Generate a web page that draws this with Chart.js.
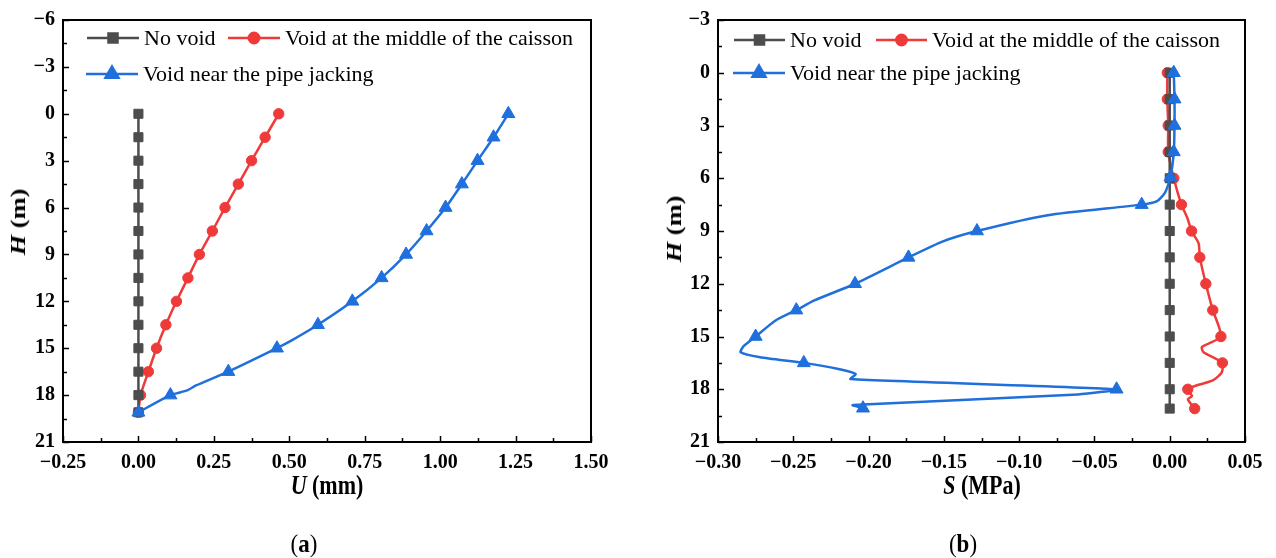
<!DOCTYPE html>
<html lang="en">
<head>
    <meta charset="UTF-8">
    <title>Caisson void profiles</title>
    <script src="https://cdn.jsdelivr.net/npm/chart.js@4.4.0/dist/chart.umd.min.js"></script>
    <style>
        body { margin: 0; background: #fff; }
        #wrap { position: relative; width: 1276px; height: 558px; font-family: 'Liberation Serif', 'Times New Roman', serif; color: #000; }
        canvas { position: absolute; top: 0; }
        /* the source figure is a little stretched vertically, so titles are too */
        .t { position: absolute; font-size: 22px; font-weight: bold; white-space: nowrap; transform: translate(-50%, -50%) scaleY(1.2); }
        .t.rot { transform: translate(-50%, -50%) rotate(-90deg) scaleX(1.2); }
        .cap { position: absolute; font-size: 23px; white-space: nowrap; transform: translate(-50%, -50%) scaleY(1.1); }
    </style>
</head>
<body>
<div id="wrap">
    <canvas id="chartA" width="638" height="558" style="left:0"></canvas>
    <canvas id="chartB" width="638" height="558" style="left:638px"></canvas>

    <div class="t" style="left:327px; top:486px"><i>U</i> (mm)</div>
    <div class="t rot" style="left:18px; top:222px"><i>H</i> (m)</div>
    <div class="cap" style="left:304px; top:544px">(<b>a</b>)</div>

    <div class="t" style="left:982px; top:486px"><i>S</i> (MPa)</div>
    <div class="t rot" style="left:674px; top:229px"><i>H</i> (m)</div>
    <div class="cap" style="left:963px; top:544px">(<b>b</b>)</div>
</div>

<script>
    // ---- panel (a): horizontal displacement U (mm) vs depth H (m)
    const depthA   = [0, 1.5, 3, 4.5, 6, 7.5, 9, 10.5, 12, 13.5, 15, 16.5, 18, 19.1];
    const noVoidA  = [0, 0, 0, 0, 0, 0, 0, 0, 0, 0, 0, 0, 0, 0];
    const midVoidA = [0.465, 0.42, 0.375, 0.331, 0.287, 0.245, 0.202, 0.164, 0.126, 0.091, 0.060, 0.033, 0.007, 0];
    // the blue curve has a few bends between markers (1 = marker shown)
    const pipeDepthA = [0, 1.5, 3, 4.5, 6, 7.5, 9, 10.5, 12, 13.5, 14.5, 15, 16.5, 17.4, 17.7, 18, 19.1];
    const pipeVoidA  = [1.226, 1.177, 1.124, 1.072, 1.018, 0.955, 0.887, 0.806, 0.709, 0.595, 0.508, 0.459, 0.298, 0.189, 0.162, 0.106, 0];
    const pipeMarkA  = [1, 1, 1, 1, 1, 1, 1, 1, 1, 1, 0, 1, 1, 0, 0, 1, 1];

    // ---- panel (b): stress S (MPa) vs depth H (m)
    const depthB  = [0, 1.5, 3, 4.5, 6, 7.5, 9, 10.5, 12, 13.5, 15, 16.5, 18, 19.1];
    const noVoidB = [0, 0, 0, 0, 0, 0, 0, 0, 0, 0, 0, 0, 0, 0];
    const midDepthB = [0, 1.5, 3, 4.5, 6, 7.5, 8.3, 9, 9.7, 10.5, 12, 13.5, 15, 15.6, 15.9, 16.5, 17.05, 17.5, 17.8, 18, 18.38, 18.57, 19.1];
    const midVoidB  = [-0.0016, -0.0016, -0.001, -0.001, 0.0027, 0.0078, 0.0119, 0.0145, 0.0192, 0.020, 0.024, 0.0286, 0.034, 0.0213, 0.0225, 0.035, 0.0345, 0.0286, 0.0172, 0.012, 0.0148, 0.012, 0.0166];
    const midMarkB  = [1, 1, 1, 1, 1, 1, 0, 1, 0, 1, 1, 1, 1, 0, 0, 1, 0, 0, 0, 1, 0, 0, 1];
    const pipeDepthB = [0, 1.5, 3, 4.5, 5.94, 6.8, 7.3, 7.5, 8.1, 9, 9.6, 10.5, 12, 12.95, 13.5, 14.1, 15, 15.55, 15.9, 16.18, 16.5, 16.85, 17.13, 17.42, 18, 18.3, 18.9, 19.08];
    const pipeVoidB  = [0.0027, 0.0032, 0.0032, 0.0027, 0.0005, -0.003, -0.0084, -0.0186, -0.081, -0.128, -0.151, -0.1735, -0.209, -0.236, -0.248, -0.262, -0.275, -0.283, -0.285, -0.272, -0.243, -0.220, -0.2086, -0.212, -0.0353, -0.061, -0.2105, -0.2037];
    const pipeMarkB  = [1, 1, 1, 1, 1, 0, 0, 1, 0, 1, 0, 1, 1, 0, 1, 0, 1, 0, 0, 0, 1, 0, 0, 0, 1, 0, 0, 1];

    const seriesNames = ['No void', 'Void at the middle of the caisson', 'Void near the pipe jacking'];

    const GREY = '#4d4d4d', RED = '#ef3a3a', BLUE = '#1f6fdc';
    const tickFont = { family: 'Liberation Serif', weight: 'bold', size: 20 };

    function pts(xs, ys) {
        return ys.map((h, i) => ({ x: xs[i], y: h }));
    }

    function series(label, color, style, radius, xs, ys, marks, order) {
        return {
            label: label,
            data: pts(xs, ys),
            showLine: true,
            borderColor: color,
            backgroundColor: color,
            borderWidth: 2.5,
            tension: 0.2,
            pointStyle: style,
            pointBackgroundColor: color,
            pointBorderColor: color,
            pointBorderWidth: 1,
            pointRadius: marks ? marks.map(m => m ? radius : 0) : radius,
            legendRadius: radius,
            order: order
        };
    }

    function minusSign(v, digits) {
        if (Math.abs(v) < 1e-9) v = 0;
        const s = digits === undefined ? String(v) : v.toFixed(digits);
        return s.replace('-', '\u2212');
    }

    // closed frame plus inward major/minor ticks
    function frameTicks(xMin, xMax, xStep, yMin, yMax, yStep) {
        return {
            id: 'frameTicks',
            afterDraw(chart) {
                const { ctx, chartArea: a, scales: { x, y } } = chart;
                ctx.save();
                ctx.strokeStyle = '#000';
                ctx.lineWidth = 1.5;
                const nx = Math.round((xMax - xMin) / (xStep / 2));
                for (let i = 0; i <= nx; i++) {
                    const px = Math.round(x.getPixelForValue(xMin + i * xStep / 2)) + 0.5;
                    const len = i % 2 === 0 ? 6 : 4;
                    ctx.beginPath();
                    ctx.moveTo(px, a.bottom);
                    ctx.lineTo(px, a.bottom - len);
                    ctx.stroke();
                }
                const ny = Math.round((yMax - yMin) / (yStep / 2));
                for (let i = 0; i <= ny; i++) {
                    const py = Math.round(y.getPixelForValue(yMin + i * yStep / 2)) + 0.5;
                    const len = i % 2 === 0 ? 6 : 4;
                    ctx.beginPath();
                    ctx.moveTo(a.left, py);
                    ctx.lineTo(a.left + len, py);
                    ctx.stroke();
                }
                ctx.lineWidth = 2;
                ctx.strokeRect(a.left, a.top, a.right - a.left, a.bottom - a.top);
                ctx.restore();
            }
        };
    }

    // legend drawn as line-marker-line samples like the original figure
    function lineLegend(items) {
        return {
            id: 'lineLegend',
            afterDraw(chart) {
                const { ctx, chartArea: a } = chart;
                ctx.save();
                items.forEach((it, i) => {
                    const ds = chart.data.datasets[i];
                    const y = a.top + it.y;
                    const x0 = a.left + it.x0, x1 = a.left + it.x1;
                    ctx.strokeStyle = ds.borderColor;
                    ctx.fillStyle = ds.borderColor;
                    ctx.lineWidth = ds.borderWidth;
                    ctx.beginPath();
                    ctx.moveTo(x0, y);
                    ctx.lineTo(x1, y);
                    ctx.stroke();
                    Chart.helpers.drawPoint(ctx, { pointStyle: ds.pointStyle, radius: ds.legendRadius, borderWidth: 1, rotation: 0 }, (x0 + x1) / 2, y);
                    ctx.fillStyle = '#000';
                    ctx.font = '22px "Liberation Serif"';
                    ctx.textBaseline = 'middle';
                    ctx.textAlign = 'left';
                    ctx.fillText(ds.label, x1 + 5, y + 1);
                });
                ctx.restore();
            }
        };
    }

    function makeOptions(padRight, yWidth, xMin, xMax, xStep, xDigits, yMin, yMax) {
        return {
            responsive: false,
            animation: false,
            layout: { padding: { left: 0, right: padRight, top: 19, bottom: 0 } },
            plugins: { legend: { display: false }, tooltip: { enabled: false } },
            scales: {
                x: {
                    type: 'linear', min: xMin, max: xMax,
                    grid: { display: false, drawTicks: false },
                    border: { display: false },
                    ticks: { stepSize: xStep, padding: 9, color: '#000', font: tickFont,
                        callback: v => minusSign(v, xDigits) },
                    afterFit: s => { s.height = 116; }
                },
                y: {
                    type: 'linear', reverse: true, min: yMin, max: yMax,
                    grid: { display: false, drawTicks: false },
                    border: { display: false },
                    ticks: { stepSize: 3, padding: 8, color: '#000', font: tickFont,
                        callback: v => minusSign(v) },
                    afterFit: s => { s.width = yWidth; }
                }
            }
        };
    }

    new Chart(document.getElementById('chartA'), {
        type: 'scatter',
        data: {
            datasets: [
                series(seriesNames[0], GREY, 'rect', 6.4, noVoidA, depthA, null, 2),
                series(seriesNames[1], RED, 'circle', 5.2, midVoidA, depthA, null, 3),
                series(seriesNames[2], BLUE, 'triangle', 7.5, pipeVoidA, pipeDepthA, pipeMarkA, 1)
            ]
        },
        options: makeOptions(47, 63, -0.25, 1.5, 0.25, 2, -6, 21),
        plugins: [
            frameTicks(-0.25, 1.5, 0.25, -6, 21, 3),
            lineLegend([
                { x0: 24, x1: 76, y: 18 },
                { x0: 165, x1: 217, y: 18 },
                { x0: 23, x1: 75, y: 54 }
            ])
        ]
    });

    new Chart(document.getElementById('chartB'), {
        type: 'scatter',
        data: {
            datasets: [
                series(seriesNames[0], GREY, 'rect', 6.4, noVoidB, depthB, null, 2),
                series(seriesNames[1], RED, 'circle', 5.2, midVoidB, midDepthB, midMarkB, 3),
                series(seriesNames[2], BLUE, 'triangle', 7.5, pipeVoidB, pipeDepthB, pipeMarkB, 1)
            ]
        },
        options: makeOptions(31, 80, -0.3, 0.05, 0.05, 2, -3, 21),
        plugins: [
            frameTicks(-0.3, 0.05, 0.05, -3, 21, 3),
            lineLegend([
                { x0: 16, x1: 67, y: 20 },
                { x0: 158, x1: 209, y: 20 },
                { x0: 15, x1: 67, y: 53 }
            ])
        ]
    });
</script>
</body>
</html>
